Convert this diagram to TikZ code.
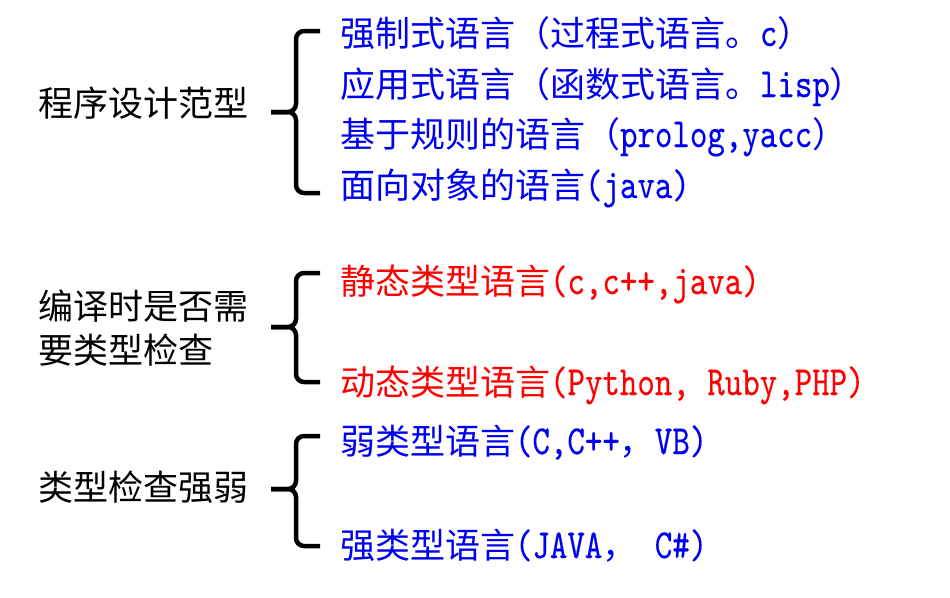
\documentclass[tikz,border=0pt]{standalone}
\usepackage{fontspec}
\setmainfont{Noto Sans CJK SC}
\newfontfamily\lm{lmmono10-regular.otf}[Scale=1.18,FakeStretch=0.806,FakeBold=0.3]
\newcommand{\La}[1]{{\lm #1}}
\definecolor{txtblue}{RGB}{0,0,240}
\definecolor{txtred}{RGB}{255,0,0}
\begin{document}
\begin{tikzpicture}[x=1pt,y=-1pt,
  every node/.style={inner sep=0pt,outer sep=0pt,font=\fontsize{35}{42}\selectfont},
  lab/.style={anchor=base west,text=black},
  itemb/.style={anchor=base west,text=txtblue},
  itemr/.style={anchor=base west,text=txtred},
  brace/.style={line width=4.5pt,rounded corners=8pt,black}]
\useasboundingbox (0,0) rectangle (950,597);
\fill[white] (0,0) rectangle (950,597);
% labels
\node[lab] (l1) at (38,116) {程序设计范型};
\node[lab] (l2a) at (38,319) {编译时是否需};
\node[lab] (l2b) at (38,363) {要类型检查};
\node[lab] (l3) at (38,500) {类型检查强弱};
% group 1
\node[itemb] (a1) at (340,46) {强制式语言（过程式语言。\La{c}）};
\node[itemb] (a2) at (340,97) {应用式语言（函数式语言。\La{lisp}）};
\node[itemb] (a3) at (340,147) {基于规则的语言（\La{prolog,yacc}）};
\node[itemb] (a4) at (340,198) {面向对象的语言\La{(java)}};
% group 2
\node[itemr] (b1) at (340,294) {静态类型语言\La{(c,c++,java)}};
\node[itemr] (b2) at (340,395) {动态类型语言\La{(Python, Ruby,PHP)}};
% group 3
\node[itemb] (c1) at (340,454) {弱类型语言\La{(C,C++}，\La{VB)}};
\node[itemb] (c2) at (340,558) {强类型语言\La{(JAVA}，\La{ C\#)}};
% braces
\draw[brace] (320,31) -- (296,31) -- (296,112) -- (271,112);
\draw[brace] (271,112) -- (296,112) -- (296,193) -- (320,193);
\draw[brace] (320,273) -- (296,273) -- (296,327) -- (271,327);
\draw[brace] (271,327) -- (296,327) -- (296,382) -- (320,382);
\draw[brace] (320,436) -- (296,436) -- (296,489) -- (271,489);
\draw[brace] (271,489) -- (296,489) -- (296,546) -- (320,546);
\end{tikzpicture}
\end{document}
